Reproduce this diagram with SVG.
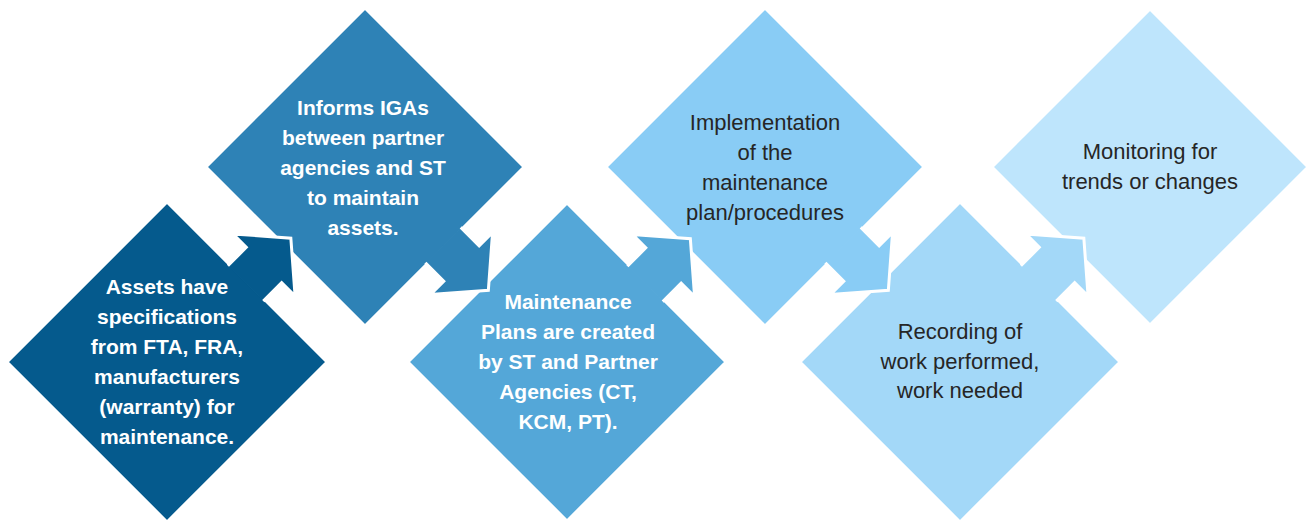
<svg xmlns="http://www.w3.org/2000/svg" xmlns:xlink="http://www.w3.org/1999/xlink" width="1309" height="525" viewBox="0 0 1309 525">
<style>
  .shape { stroke: #ffffff; stroke-width: 3; stroke-linejoin: miter; }
  .lt { font-family: "Liberation Sans", Arial, sans-serif; font-size: 21px; font-weight: bold; fill: #ffffff; text-anchor: middle; }
  .dk { font-family: "Liberation Sans", Arial, sans-serif; font-size: 22px; fill: #262626; text-anchor: middle; }
</style>
<defs>
  <path id="arr" d="M -2,-25 L 24,-25 L 24,-44 L 62,0 L 24,44 L 24,25 L -2,25"/>
</defs>
<rect x="0" y="0" width="1309" height="525" fill="#ffffff"/>
<g id="nodes">
  <g id="node1">
    <polygon class="shape" fill="#055A8D" points="167,202 327,362 167,522 7,362"/>
    <text class="lt" x="167" y="294">Assets have</text>
    <text class="lt" x="167" y="324">specifications</text>
    <text class="lt" x="167" y="354">from FTA, FRA,</text>
    <text class="lt" x="167" y="384">manufacturers</text>
    <text class="lt" x="167" y="414">(warranty) for</text>
    <text class="lt" x="167" y="444">maintenance.</text>
  </g>
  <g id="node2">
    <polygon class="shape" fill="#2E82B6" points="365,8 524,167 365,326 206,167"/>
    <text class="lt" x="363" y="115">Informs IGAs</text>
    <text class="lt" x="363" y="145">between partner</text>
    <text class="lt" x="363" y="175">agencies and ST</text>
    <text class="lt" x="363" y="205">to maintain</text>
    <text class="lt" x="363" y="235">assets.</text>
  </g>
  <g id="node3">
    <polygon class="shape" fill="#54A7D8" points="567,203 726,362 567,521 408,362"/>
    <text class="lt" x="568" y="309">Maintenance</text>
    <text class="lt" x="568" y="339">Plans are created</text>
    <text class="lt" x="568" y="369">by ST and Partner</text>
    <text class="lt" x="568" y="399">Agencies (CT,</text>
    <text class="lt" x="568" y="429">KCM, PT).</text>
  </g>
  <g id="node4">
    <polygon class="shape" fill="#89CCF5" points="765,8 924,167 765,326 606,167"/>
    <text class="dk" x="765" y="130">Implementation</text>
    <text class="dk" x="765" y="160">of the</text>
    <text class="dk" x="765" y="190">maintenance</text>
    <text class="dk" x="765" y="220">plan/procedures</text>
  </g>
  <g id="node5">
    <polygon class="shape" fill="#A3D8F8" points="960,202 1120,362 960,522 800,362"/>
    <text class="dk" x="960" y="339">Recording of</text>
    <text class="dk" x="960" y="369">work performed,</text>
    <text class="dk" x="960" y="398">work needed</text>
  </g>
  <g id="node6">
    <polygon class="shape" fill="#BEE5FC" points="1150,9 1308,167 1150,325 992,167"/>
    <text class="dk" x="1150" y="159">Monitoring for</text>
    <text class="dk" x="1150" y="189">trends or changes</text>
  </g>
</g>
<g id="connectors">
  <use xlink:href="#arr" class="shape" fill="#055A8D" transform="translate(247,282) rotate(-45)"/>
  <use xlink:href="#arr" class="shape" fill="#2E82B6" transform="translate(444.5,246.5) rotate(45)"/>
  <use xlink:href="#arr" class="shape" fill="#54A7D8" transform="translate(646.5,282.5) rotate(-45)"/>
  <use xlink:href="#arr" class="shape" fill="#89CCF5" transform="translate(844.5,246.5) rotate(45)"/>
  <use xlink:href="#arr" class="shape" fill="#A3D8F8" transform="translate(1040,282) rotate(-45)"/>
</g>
</svg>
